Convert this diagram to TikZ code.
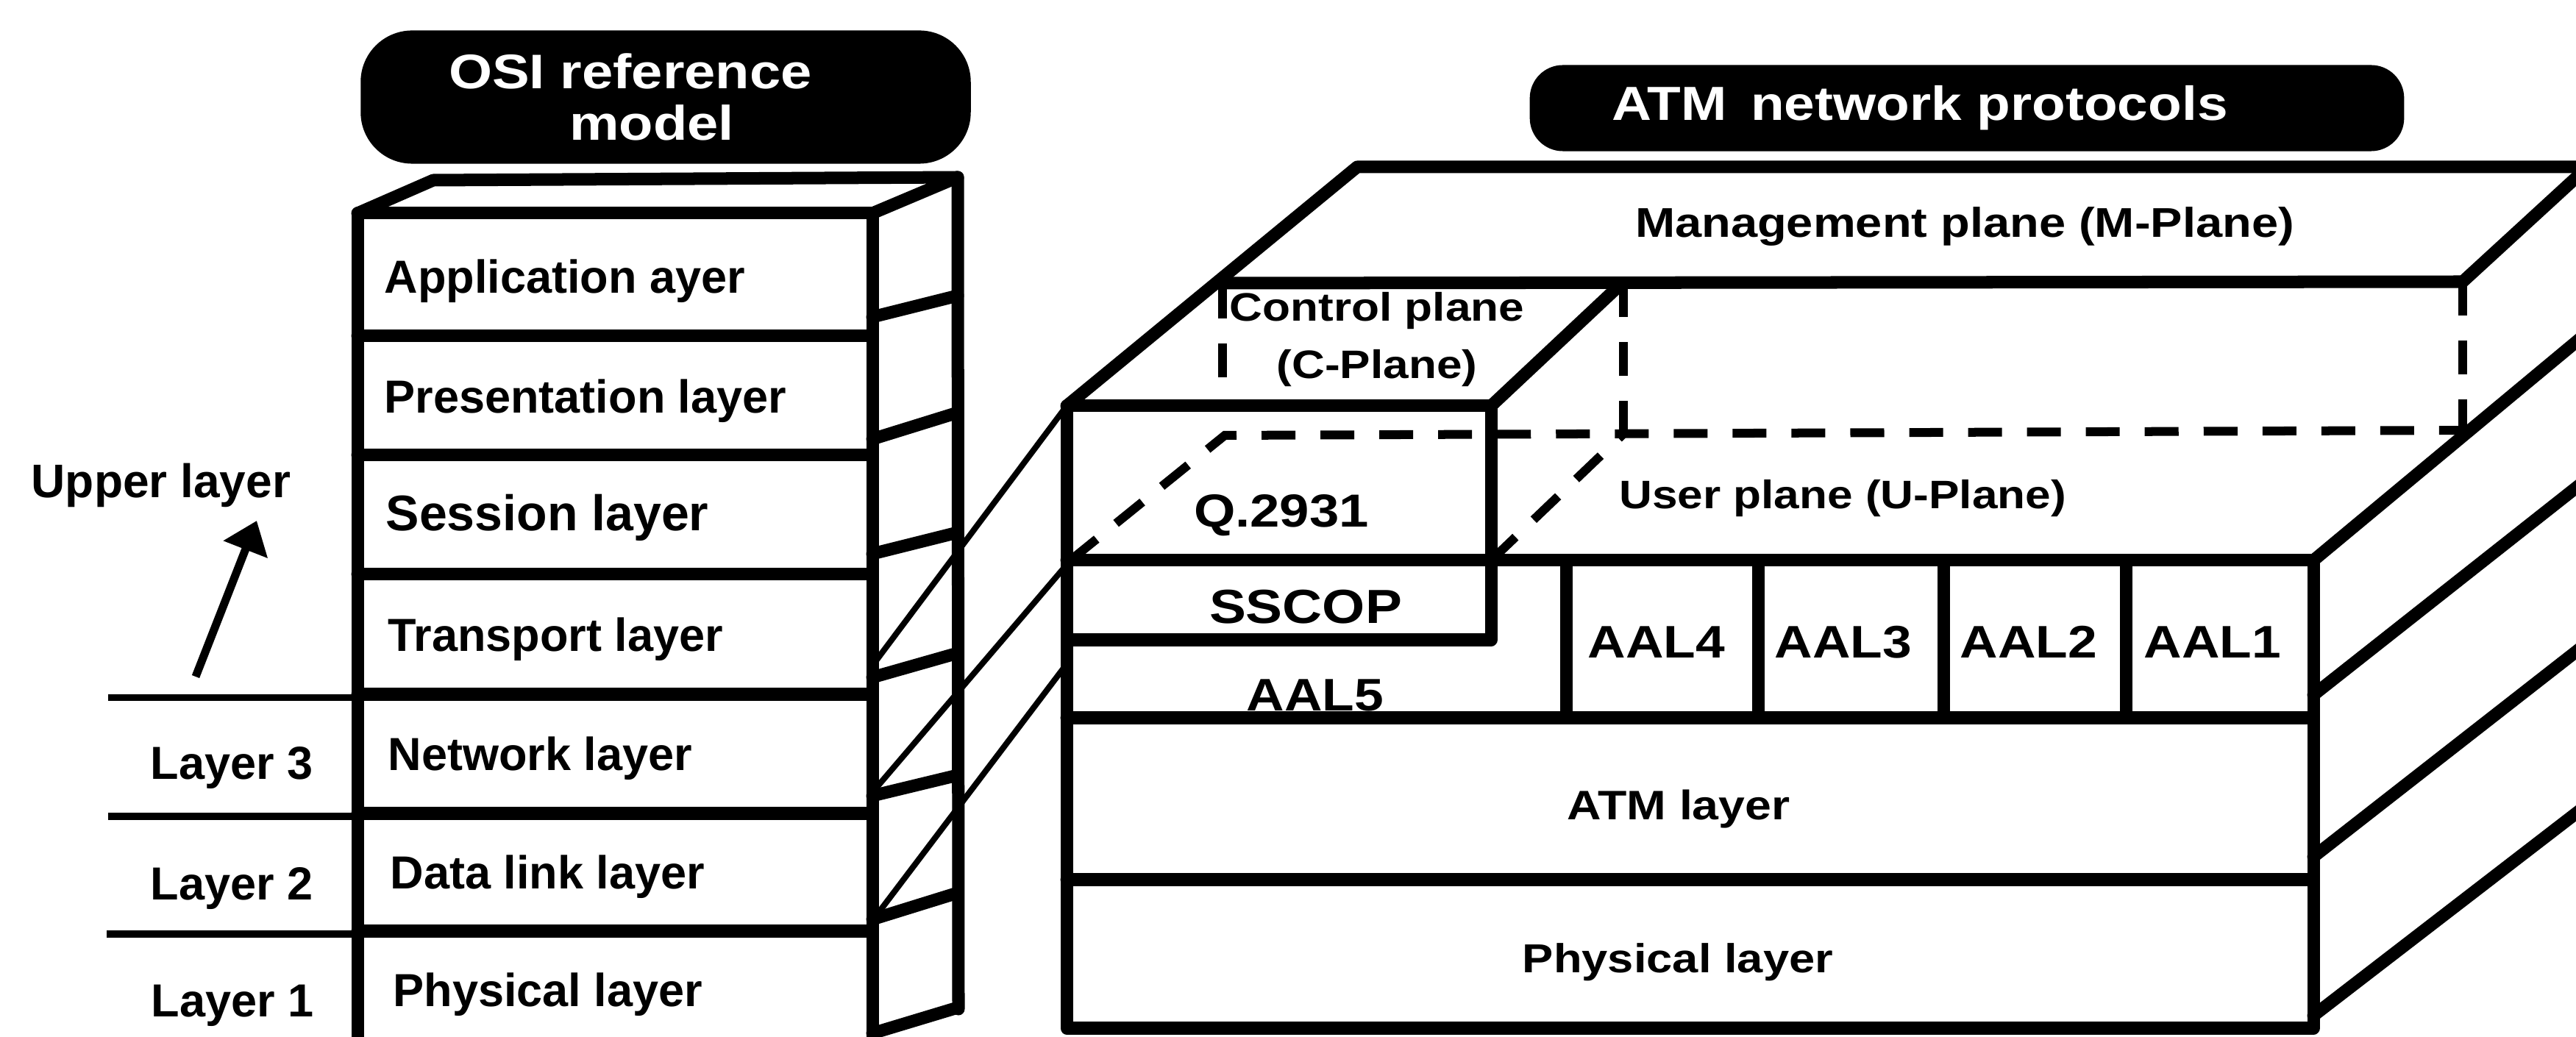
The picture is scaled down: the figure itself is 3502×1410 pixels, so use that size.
\documentclass[tikz,border=0pt]{standalone}
\usepackage{fontspec}
\setmainfont{Liberation Sans}
\newfontfamily\widefont{Liberation Sans}[FakeStretch=1.15]
\usetikzlibrary{arrows.meta}

\tikzset{
  heavy/.style={line width=0.17cm, line join=round, line cap=round},
  slim/.style={line width=0.08cm, line cap=round},
  rule/.style={line width=0.09cm},
  hidden/.style={line width=0.12cm, dash pattern=on 0.46cm off 0.34cm},
  banner/.style={fill=black, text=white, inner sep=0pt},
  ositxt/.style={anchor=west, inner sep=0pt, font=\bfseries\fontsize{0.63cm}{0.75cm}\selectfont},
  atmtxt/.style={inner sep=0pt, font=\widefont\bfseries\fontsize{#1}{#1}\selectfont},
}

\begin{document}
\begin{tikzpicture}[x=0.01cm, y=-0.01cm]
\fill[white] (0,0) rectangle (3502,1410);
\begin{scope}
\clip (0,0) rectangle (3502,1410);

% ================= OSI reference model =================
\node[banner, minimum width=8.29cm, minimum height=1.81cm, rounded corners=0.7cm,
      align=center, font=\widefont\bfseries\fontsize{0.66cm}{0.70cm}\selectfont]
      (osibanner) at (905,132) {OSI reference\hspace*{0.96cm}\\model\hspace*{0.38cm}};

% front face of the stack
\draw[heavy] (486,290) rectangle (1186,1426);
\foreach \y in {457,619,781,944,1106,1266}
  \draw[heavy] (486,\y) -- (1186,\y);
% top face
\draw[heavy] (486,290) -- (589,245) -- (1302,241) -- (1186,290);
% side face
\draw[heavy] (1302,241) -- (1303,1372);
\foreach \a/\b in {431/402, 597/561, 753/724, 921/888, 1082/1054, 1250/1214, 1405/1370}
  \draw[heavy] (1186,\a) -- (1302,\b);

% layer names
\node[ositxt] (appl)  at (522,382)  {Application ayer};
\node[ositxt] (pres)  at (522,545)  {Presentation layer};
\node[ositxt, font=\bfseries\fontsize{0.68cm}{0.8cm}\selectfont] (sess) at (524,704) {Session layer};
\node[ositxt] (trans) at (527,869)  {Transport layer};
\node[ositxt] (netw)  at (527,1031) {Network layer};
\node[ositxt] (dlink) at (530,1192) {Data link layer};
\node[ositxt] (phys)  at (534,1352) {Physical layer};

% layer numbering on the left
\node[ositxt, font=\bfseries\fontsize{0.64cm}{0.75cm}\selectfont] (upper) at (42,660) {Upper layer};
\coordinate (upTail) at (266,920);
\coordinate (upTip)  at (349,708);
\draw[line width=0.11cm, -{Triangle[length=0.42cm, width=0.62cm]}] (upTail) -- (upTip);

\draw[rule] (147,949)  -- (486,949);
\draw[rule] (147,1110) -- (486,1110);
\draw[rule] (145,1270) -- (486,1270);

\node[ositxt] (lay3) at (204,1044) {Layer 3};
\node[ositxt] (lay2) at (204,1208) {Layer 2};
\node[ositxt] (lay1) at (205,1367) {Layer 1};

% ================= ATM network protocols =================
\node[banner, minimum width=11.88cm, minimum height=1.17cm, rounded corners=0.45cm,
      font=\widefont\bfseries\fontsize{0.65cm}{0.7cm}\selectfont]
      (atmbanner) at (2674,147) {ATM\enspace network protocols\hspace*{1.28cm}};

% management plane (top slab)
\draw[heavy] (1450,552) -- (1845,227) -- (3560,227);
\draw[heavy] (1655,385) -- (3348,383) -- (3518,227);
\draw[hidden] (3348,383) -- (3348,585);

% control plane block (Q.2931 / SSCOP column)
\draw[heavy] (1450,552) rectangle (2027,870);
\draw[heavy] (2027,552) -- (2205,385);
\draw[hidden] (1662,387) -- (1662,552);
\draw[hidden] (2207,385) -- (2207,590);
\draw[hidden] (1455,762) -- (1665,592) -- (3348,585);

% user plane top face
\draw[hidden] (2027,762) -- (2207,590);
\draw[heavy] (3145,762) -- (3520,450);

% front face
\draw[heavy] (1450,552) -- (1450,1398) -- (3145,1398) -- (3145,762) -- (1450,762);
\draw[heavy] (1450,976)  -- (3145,976);
\draw[heavy] (1450,1196) -- (3145,1196);
\foreach \x in {2129,2390,2642,2890}
  \draw[heavy] (\x,762) -- (\x,976);

% right side face
\draw[heavy] (3145,945)  -- (3520,649);
\draw[heavy] (3145,1165) -- (3520,872);
\draw[heavy] (3145,1381) -- (3520,1092);

% labels
\node[atmtxt=0.565cm] (mplane) at (2671,308) {Management plane (M-Plane)};
\node[inner sep=0pt, align=center, font=\widefont\bfseries\fontsize{0.54cm}{0.78cm}\selectfont]
      (cplane) at (1872,462) {Control plane\\(C-Plane)};
\node[atmtxt=0.54cm] (uplane) at (2505,678) {User plane (U-Plane)};
\node[atmtxt=0.63cm] (q2931)  at (1742,701) {Q.2931};
\node[atmtxt=0.65cm] (sscop)  at (1775,825) {SSCOP};
\node[atmtxt=0.62cm] (aal5)   at (1788,945) {AAL5};
\node[atmtxt=0.62cm] (aal4)   at (2252,873) {AAL4};
\node[atmtxt=0.62cm] (aal3)   at (2506,873) {AAL3};
\node[atmtxt=0.62cm] (aal2)   at (2758,873) {AAL2};
\node[atmtxt=0.62cm] (aal1)   at (3008,873) {AAL1};
\node[atmtxt=0.56cm] (atml)   at (2282,1100) {ATM layer};
\node[atmtxt=0.55cm] (physl)  at (2281,1308) {Physical layer};

% ================= correspondence lines =================
\coordinate (osiA) at (1192,897);
\coordinate (osiB) at (1194,1068);
\coordinate (osiC) at (1195,1240);
\coordinate (atmA) at (1450,552);
\coordinate (atmB) at (1450,768);
\coordinate (atmC) at (1450,903);
\draw[slim] (osiA) -- (atmA);
\draw[slim] (osiB) -- (atmB);
\draw[slim] (osiC) -- (atmC);

\end{scope}
\pgfresetboundingbox
\useasboundingbox (0,0) rectangle (3502,1410);
\end{tikzpicture}
\end{document}
